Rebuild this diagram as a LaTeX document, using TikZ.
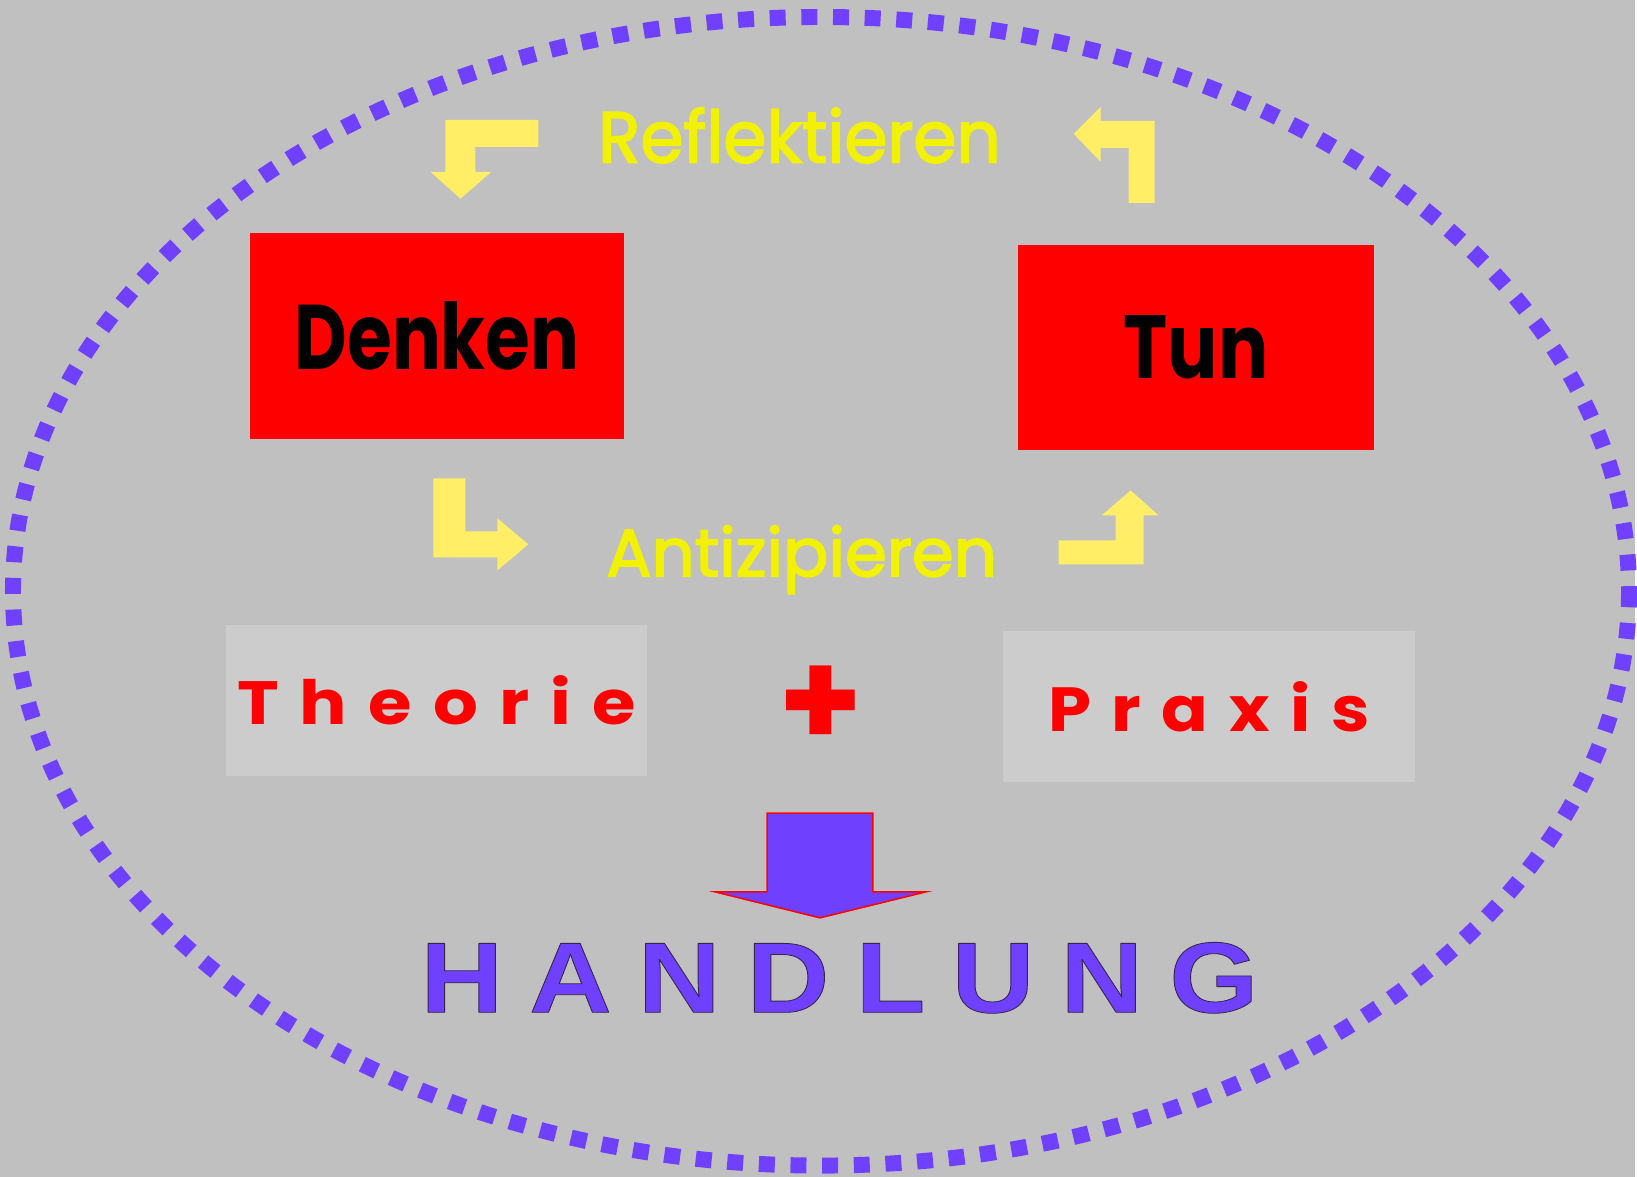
\documentclass[tikz,border=0pt]{standalone}
\usepackage{fontspec}
\usepackage{graphicx}
\usetikzlibrary{shapes,arrows}
\setmainfont{Poppins}
\newfontfamily\mottofont[FakeBold=2.5]{Poppins}
\newfontfamily\blockfont{Liberation Sans}
\definecolor{bggray}{RGB}{192,192,192}
\definecolor{boxgray}{RGB}{204,204,204}
\definecolor{lila}{RGB}{112,64,255}
\definecolor{arrowyellow}{RGB}{255,238,102}
\definecolor{textyellow}{RGB}{242,242,0}
% outline for the block letters (fill and stroke)
\def\Outline{\special{pdf:literal direct 0.2 0.15 0.3 RG 0.08 w 1 j 2 Tr}}
\def\NoOutline{\special{pdf:literal direct 0 Tr}}

\begin{document}
\begin{tikzpicture}[% one unit is one pixel of the sketch, y runs downwards
      x=1pt,y=-1pt,
      every node/.style={
        inner sep=0pt,   % text boxes are sized by hand
        align=center
      },
      redbox/.style={rectangle,fill=red,text=black,font=\bfseries},
      graybox/.style={rectangle,fill=boxgray,text=red,font=\bfseries},
      turn/.style={fill=arrowyellow},
      motto/.style={text=textyellow,font=\mottofont}
    ]
    % background and dotted frame
    \fill[bggray] (0,0) rectangle (1637,1178);
    \draw[lila,line width=16pt,dash pattern=on 16pt off 15.7pt]
      (822,592) ellipse [x radius=809, y radius=575];

    \node[redbox,minimum width=374pt,minimum height=206pt](denken) at (437.5,336.7)
      {\resizebox{285pt}{68pt}{Denken}};
    \node[redbox,minimum width=357pt,minimum height=206pt](tun) at (1197.5,348)
      {\resizebox{145pt}{63pt}{Tun}};

    \node[motto](reflekt) at (800.5,135.5)
      {\resizebox{403pt}{55pt}{Reflektieren}};
    \node[motto,anchor=base](antizip) at (802.5,577)
      {\resizebox{391pt}{51pt}{Antizipieren}};

    % turning arrows round the two boxes
    \fill[turn] (539,120) -- (446,120) -- (446,172) -- (431,172) -- (461,199)
      -- (492,172) -- (476,172) -- (476,147) -- (539,147) -- cycle;
    \fill[turn] (1156,203) -- (1156,121) -- (1102,121) -- (1102,107) -- (1075,134)
      -- (1102,162) -- (1102,148) -- (1130,148) -- (1130,203) -- cycle;
    \fill[turn] (434,479) -- (466,479) -- (466,532) -- (498,532) -- (498,519)
      -- (529,545) -- (498,571) -- (498,558) -- (434,558) -- cycle;
    \fill[turn] (1060,541) -- (1117,541) -- (1117,516) -- (1103,516) -- (1132,491)
      -- (1160,516) -- (1145,516) -- (1145,565) -- (1060,565) -- cycle;

    \node[graybox,minimum width=421pt,minimum height=151pt](theorie) at (437,701.5)
      {\resizebox{399pt}{49pt}{\spaceskip=0.3em\relax T h e o r i e}};
    \node[graybox,minimum width=413pt,minimum height=151pt](praxis) at (1210.5,707.5)
      {\resizebox{322pt}{50pt}{\spaceskip=0.3em\relax P r a x i s}};
    \node[text=red,font=\fontsize{135}{135}\selectfont\bfseries](plus) at (821.5,708) {+};

    % down arrow to the result
    \draw[fill=lila,draw=red,line width=1.5pt,line join=miter]
      (768,814) -- (874,814) -- (874,893) -- (927,893) -- (821,919)
      -- (716,893) -- (768,893) -- cycle;
    \node[text=lila,font=\blockfont\bfseries](handlung) at (840.5,979)
      {\Outline\resizebox{839pt}{70pt}{\spaceskip=0.23em\relax H A N D L U N G}\NoOutline};
  \end{tikzpicture}
\end{document}
